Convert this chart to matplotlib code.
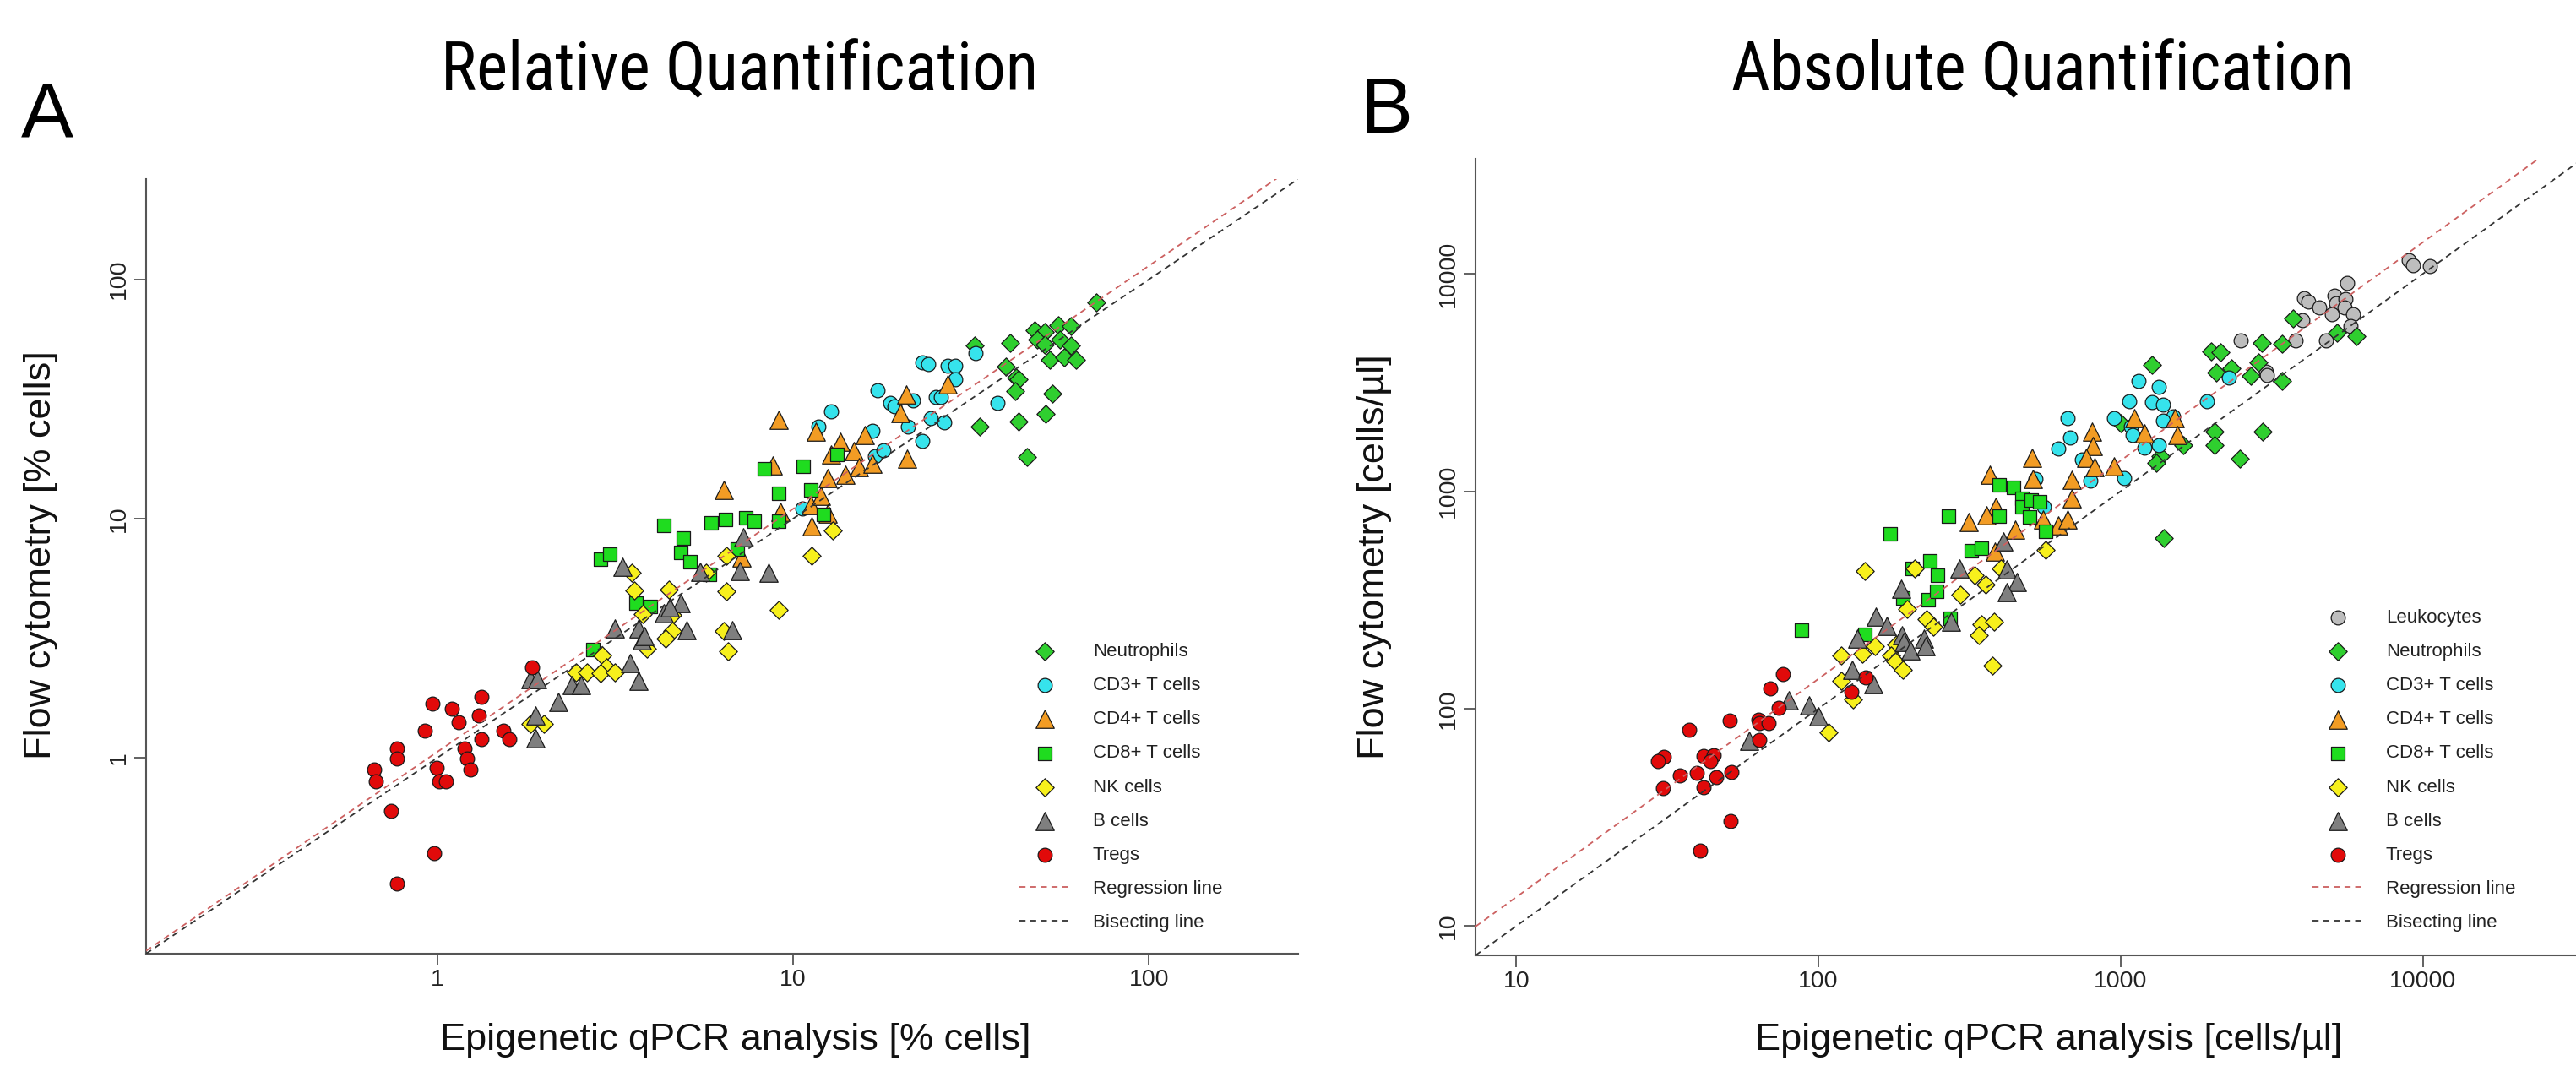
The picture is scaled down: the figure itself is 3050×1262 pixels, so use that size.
import matplotlib

matplotlib.use("Agg")
import matplotlib.pyplot as plt
import numpy as np
from matplotlib import font_manager

# ---- panel A: relative quantification (% cells) ----
NEUT_A_X = [40.6, 39.7, 42.2, 43.1, 42.0, 53.5, 51.3, 43.1, 33.4, 45.5, 47.8, 51.0, 55.6, 60.3, 48.6, 51.0,
            56.2, 60.3, 52.7, 57.8, 62.3, 71.0, 32.3]
NEUT_A_Y = [54.1, 43.3, 38.7, 38.2, 34.2, 33.3, 27.4, 25.5, 24.2, 18.1, 61.2, 60.4, 64.5, 63.7, 56.2, 53.4,
            56.2, 53.0, 46.2, 47.4, 46.2, 80.0, 52.7]
CD3_A_X = [10.6, 11.8, 12.8, 17.3, 16.7, 17.0, 17.9, 18.7, 19.3, 21.0, 21.7, 23.0, 23.1, 24.0, 24.4, 25.1,
           26.0, 26.6, 27.1, 28.6, 28.5, 32.6, 37.6]
CD3_A_Y = [11.0, 24.2, 28.1, 34.3, 23.2, 18.3, 19.3, 30.4, 29.4, 24.2, 31.2, 21.2, 44.9, 44.3, 26.2, 32.3,
           32.1, 25.2, 43.4, 43.4, 38.2, 49.3, 30.4]
CD4_A_X = [6.37, 7.17, 8.78, 9.12, 9.19, 11.2, 11.3, 11.6, 12.0, 12.5, 12.5, 12.8, 13.6, 14.0, 14.8, 15.3,
           15.9, 16.7, 20.0, 20.8, 20.9, 27.1]
CD4_A_Y = [13.2, 6.89, 16.7, 25.8, 10.7, 11.4, 9.3, 23.1, 12.4, 10.5, 14.8, 18.6, 20.9, 15.2, 19.2, 16.4,
           22.4, 16.9, 27.7, 32.9, 17.8, 36.3]
CD8_A_X = [2.74, 2.87, 3.06, 3.62, 3.97, 4.34, 4.82, 4.92, 5.13, 5.83, 5.87, 6.47, 6.95, 7.37, 7.79, 8.28,
           9.09, 9.09, 10.7, 11.2, 12.2, 13.3]
CD8_A_Y = [2.84, 6.77, 7.11, 4.45, 4.30, 9.39, 7.23, 8.28, 6.58, 5.86, 9.57, 9.94, 7.48, 10.1, 9.77, 16.1,
           12.8, 9.77, 16.6, 13.2, 10.4, 18.6]
NK_A_X = [3.51, 3.57, 4.48, 3.78, 4.57, 4.57, 4.39, 3.88, 2.91, 2.98, 2.45, 2.64, 2.88, 3.15, 6.49, 5.68,
          6.49, 6.40, 6.56, 9.09, 11.3, 12.9, 1.83, 1.99]
NK_A_Y = [5.94, 5.00, 5.07, 4.00, 3.97, 3.40, 3.15, 2.87, 2.68, 2.40, 2.27, 2.27, 2.26, 2.27, 6.97, 5.94,
          4.96, 3.38, 2.78, 4.14, 6.97, 8.91, 1.39, 1.39]
BCELL_A_X = [3.32, 3.15, 3.68, 3.76, 3.81, 4.84, 4.32, 4.50, 5.02, 5.48, 7.10, 7.24, 8.55, 6.74, 2.39, 2.54,
             2.19, 3.49, 3.68, 1.83, 1.91, 1.89, 1.89]
BCELL_A_Y = [6.30, 3.48, 3.48, 3.10, 3.24, 4.45, 4.02, 4.26, 3.43, 6.00, 6.03, 8.36, 5.94, 3.43, 2.01, 2.01,
             1.72, 2.50, 2.10, 2.13, 2.13, 1.50, 1.21]
TREG_A_X = [0.665, 0.673, 0.742, 0.77, 0.77, 0.77, 0.922, 0.968, 0.978, 0.995, 1.01, 1.056, 1.10, 1.15,
            1.19, 1.21, 1.24, 1.31, 1.33, 1.33, 1.53, 1.59, 1.85]
TREG_A_Y = [0.895, 0.795, 0.60, 1.10, 0.99, 0.298, 1.30, 1.69, 0.40, 0.906, 0.795, 0.795, 1.60, 1.405,
            1.10, 0.99, 0.895, 1.50, 1.80, 1.20, 1.30, 1.20, 2.39]

# ---- panel B: absolute quantification (cells/ul) ----
LEUK_B_X = [8980, 9260, 10570, 5610, 4040, 4170, 4530, 5090, 5160, 5540, 5490, 5010, 5880, 3980, 5750,
            4790, 3800, 2490, 3020, 3050]
LEUK_B_Y = [11560, 10990, 10840, 9040, 7710, 7440, 6970, 7910, 7330, 7670, 7010, 6500, 6500, 6120, 5770,
            4920, 4920, 4920, 3560, 3410]
NEUT_B_X = [3720, 5210, 6020, 1993, 2140, 2925, 3410, 2860, 2320, 2070, 2690, 3410, 1268, 1606, 1358, 1308,
            2040, 2040, 2950, 2486, 1390, 998]
NEUT_B_Y = [6210, 5340, 5160, 4400, 4360, 4820, 4750, 3900, 3670, 3510, 3390, 3210, 3810, 1633, 1448, 1352,
            1871, 1633, 1871, 1416, 607, 2047]
CD3_B_X = [1146, 1336, 1067, 1267, 1377, 1488, 1377, 1932, 2287, 953, 669, 680, 620, 745, 792, 1028, 1078,
           1095, 1200, 1336, 523, 557]
CD3_B_Y = [3212, 3020, 2600, 2562, 2510, 2206, 2109, 2600, 3328, 2174, 2174, 1771, 1570, 1393, 1122, 1146,
           1986, 1815, 1585, 1633, 1140, 844]
CD4_B_X = [1112, 1511, 1199, 1535, 805, 810, 769, 817, 953, 508, 511, 690, 690, 368, 385, 360, 315, 447,
           554, 620, 669, 383]
CD4_B_Y = [2174, 2174, 1841, 1815, 1871, 1609, 1428, 1285, 1305, 1428, 1140, 1130, 923, 1192, 844, 776, 719,
           663, 741, 698, 741, 527]
CD8_B_X = [88, 142, 173, 190, 204, 230, 233, 246, 248, 270, 272, 320, 346, 397, 397, 442, 470, 470, 500,
           505, 540, 565]
CD8_B_Y = [229, 219, 634, 322, 443, 317, 479, 347, 409, 771, 261, 530, 546, 1074, 771, 1041, 923, 844, 760,
           910, 897, 654]
NK_B_X = [142, 208, 329, 358, 402, 294, 197, 228, 240, 345, 382, 340, 119, 140, 154, 181, 174, 179, 190,
          119, 130, 108, 377, 566]
NK_B_Y = [430, 441, 409, 371, 443, 335, 288, 259, 239, 244, 252, 217, 176, 179, 194, 198, 176, 165, 151,
          134, 110, 78, 157, 535]
BCELL_B_X = [188, 292, 419, 452, 421, 155, 168, 134, 189, 192, 202, 223, 227, 274, 129, 152, 80, 93, 100,
             59, 410]
BCELL_B_Y = [356, 441, 438, 382, 342, 264, 241, 209, 217, 203, 185, 210, 194, 252, 151, 129, 109, 104, 92,
             71, 589]
TREG_B_X = [76.5, 69.2, 73.9, 50.7, 37.3, 63.4, 63.9, 68.3, 63.9, 30.7, 29.4, 41.7, 45.1, 43.8, 34.7, 39.6,
            51.4, 46.0, 41.6, 30.6, 51.1, 40.5, 143, 128.5]
TREG_B_Y = [144.8, 123.3, 100.7, 88.5, 79.7, 89.3, 85.9, 85.9, 71.8, 60.1, 57.6, 60.6, 61.2, 57.6, 49.2,
            50.7, 51.2, 48.2, 43.6, 43.0, 30.5, 22.2, 138.5, 119.3]

# log10(y) = intercept + slope * log10(x)
REGRESSION_A = (0.025, 1.016)
REGRESSION_B = (0.129, 1.004)

TICKS_A = [1, 10, 100]
TICKS_B = [10, 100, 1000, 10000]
LIMITS_A = (0.152, 262.4)
LIMITS_B = (7.33, 33800)

# name -> (marker, size, face colour)
STYLES = {
    "Leukocytes": ("o", 145, "#bdbdbd"),
    "Neutrophils": ("D", 118, "#2fcf2f"),
    "CD3+ T cells": ("o", 145, "#36e3ec"),
    "CD4+ T cells": ("^", 240, "#f29c24"),
    "CD8+ T cells": ("s", 122, "#1fdc1f"),
    "NK cells": ("D", 118, "#f7f01c"),
    "B cells": ("^", 240, "#7f7f7f"),
    "Tregs": ("o", 145, "#e10a0a"),
}

W, H, DPI = 3050, 1262, 100
LABEL_FONT = "Liberation Sans"


def title_family():
    names = {f.name for f in font_manager.fontManager.ttflist}
    for name in ("Roboto Condensed", "Liberation Sans Narrow", "Open Sans Condensed", "Noto Sans"):
        if name in names:
            return name
    return "DejaVu Sans"


def draw_panel(fig, rect, groups, regression, ticks, limits, xlabel, ylabel, legend_anchor,
               xlabel_pos, ylabel_pos):
    ax = fig.add_axes(rect)
    ax.set_xscale("log")
    ax.set_yscale("log")
    ax.set_xlim(*limits)
    ax.set_ylim(*limits)

    handles = []
    for name, xs, ys in groups:
        marker, size, color = STYLES[name]
        sc = ax.scatter(xs, ys, s=size, marker=marker, c=color, edgecolors="#1a1a1a",
                        linewidths=0.9, zorder=2, label=name)
        handles.append(sc)

    line_x = np.array(limits)
    intercept, slope = regression
    reg, = ax.plot(line_x, 10 ** (intercept + slope * np.log10(line_x)), color="#cc6060",
                   lw=1.3, dashes=(4, 3), zorder=3, label="Regression line")
    bis, = ax.plot(line_x, line_x, color="#333333", lw=1.3, dashes=(4, 3), zorder=3,
                   label="Bisecting line")
    handles += [reg, bis]

    for side in ("top", "right"):
        ax.spines[side].set_visible(False)
    for side in ("left", "bottom"):
        ax.spines[side].set_color("#555555")
        ax.spines[side].set_linewidth(1.5)

    ax.set_xticks(ticks)
    ax.set_yticks(ticks)
    ax.set_xticklabels([str(t) for t in ticks])
    ax.set_yticklabels([str(t) for t in ticks])
    ax.minorticks_off()
    ax.tick_params(length=10, width=1.3, color="#555555", labelsize=20.5, labelcolor="#222222")
    ax.tick_params(axis="x", pad=3)
    ax.tick_params(axis="y", pad=4)
    for lab in ax.get_xticklabels() + ax.get_yticklabels():
        lab.set_family(LABEL_FONT)
    for lab in ax.get_yticklabels():
        lab.set_rotation(90)
        lab.set_va("center")

    ax.set_xlabel(xlabel, fontsize=32.5, family=LABEL_FONT, color="#111111")
    ax.set_ylabel(ylabel, fontsize=32.5, family=LABEL_FONT, color="#111111")
    ax.xaxis.label.set_va("center")
    ax.yaxis.label.set_va("center")
    ax.xaxis.set_label_coords(*xlabel_pos)
    ax.yaxis.set_label_coords(*ylabel_pos)

    ax.legend(handles=handles, loc="lower left", bbox_to_anchor=legend_anchor,
              bbox_transform=fig.transFigure, frameon=False, scatterpoints=1,
              prop={"family": LABEL_FONT, "size": 16}, labelcolor="#222222",
              handlelength=2.7, handletextpad=1.2, labelspacing=0.86,
              borderpad=0, borderaxespad=0)
    return ax


fig = plt.figure(figsize=(W / DPI, H / DPI), dpi=DPI)

groups_a = [
    ("Neutrophils", NEUT_A_X, NEUT_A_Y),
    ("CD3+ T cells", CD3_A_X, CD3_A_Y),
    ("CD4+ T cells", CD4_A_X, CD4_A_Y),
    ("CD8+ T cells", CD8_A_X, CD8_A_Y),
    ("NK cells", NK_A_X, NK_A_Y),
    ("B cells", BCELL_A_X, BCELL_A_Y),
    ("Tregs", TREG_A_X, TREG_A_Y),
]
groups_b = [
    ("Leukocytes", LEUK_B_X, LEUK_B_Y),
    ("Neutrophils", NEUT_B_X, NEUT_B_Y),
    ("CD3+ T cells", CD3_B_X, CD3_B_Y),
    ("CD4+ T cells", CD4_B_X, CD4_B_Y),
    ("CD8+ T cells", CD8_B_X, CD8_B_Y),
    ("NK cells", NK_B_X, NK_B_Y),
    ("B cells", BCELL_B_X, BCELL_B_Y),
    ("Tregs", TREG_B_X, TREG_B_Y),
]

draw_panel(fig, [173 / W, 1 - 1129 / H, 1364 / W, 917 / H], groups_a, REGRESSION_A, TICKS_A,
           LIMITS_A, "Epigenetic qPCR analysis [% cells]", "Flow cytometry [% cells]",
           (1207 / W, 1 - 1103 / H), (0.5117, -0.1123), (-0.0916, 0.515))
draw_panel(fig, [1747 / W, 1 - 1131 / H, 1311 / W, 943 / H], groups_b, REGRESSION_B, TICKS_B,
           LIMITS_B, "Epigenetic qPCR analysis [cells/µl]", "Flow cytometry [cells/µl]",
           (2738 / W, 1 - 1103 / H), (0.518, -0.1071), (-0.0908, 0.5))

fig.text(25 / W, 1 - 162 / H, "A", fontsize=67, family=LABEL_FONT, ha="left", va="baseline")
fig.text(1610 / W, 1 - 157 / H, "B", fontsize=67, family=LABEL_FONT, ha="left", va="baseline")

# titles: narrow face, sized so "Relative Quantification" spans the measured 709 px
tfam = title_family()
renderer = fig.canvas.get_renderer()
titles = [
    fig.text(876 / W, 1 - 106 / H, "Relative Quantification", fontsize=50, family=tfam,
             ha="center", va="baseline"),
    fig.text(2418 / W, 1 - 106 / H, "Absolute Quantification", fontsize=50, family=tfam,
             ha="center", va="baseline"),
]
width_a = titles[0].get_window_extent(renderer).width
for t in titles:
    t.set_fontsize(50 * 709 / width_a)

fig.savefig("out.png", dpi=DPI, facecolor="white")
